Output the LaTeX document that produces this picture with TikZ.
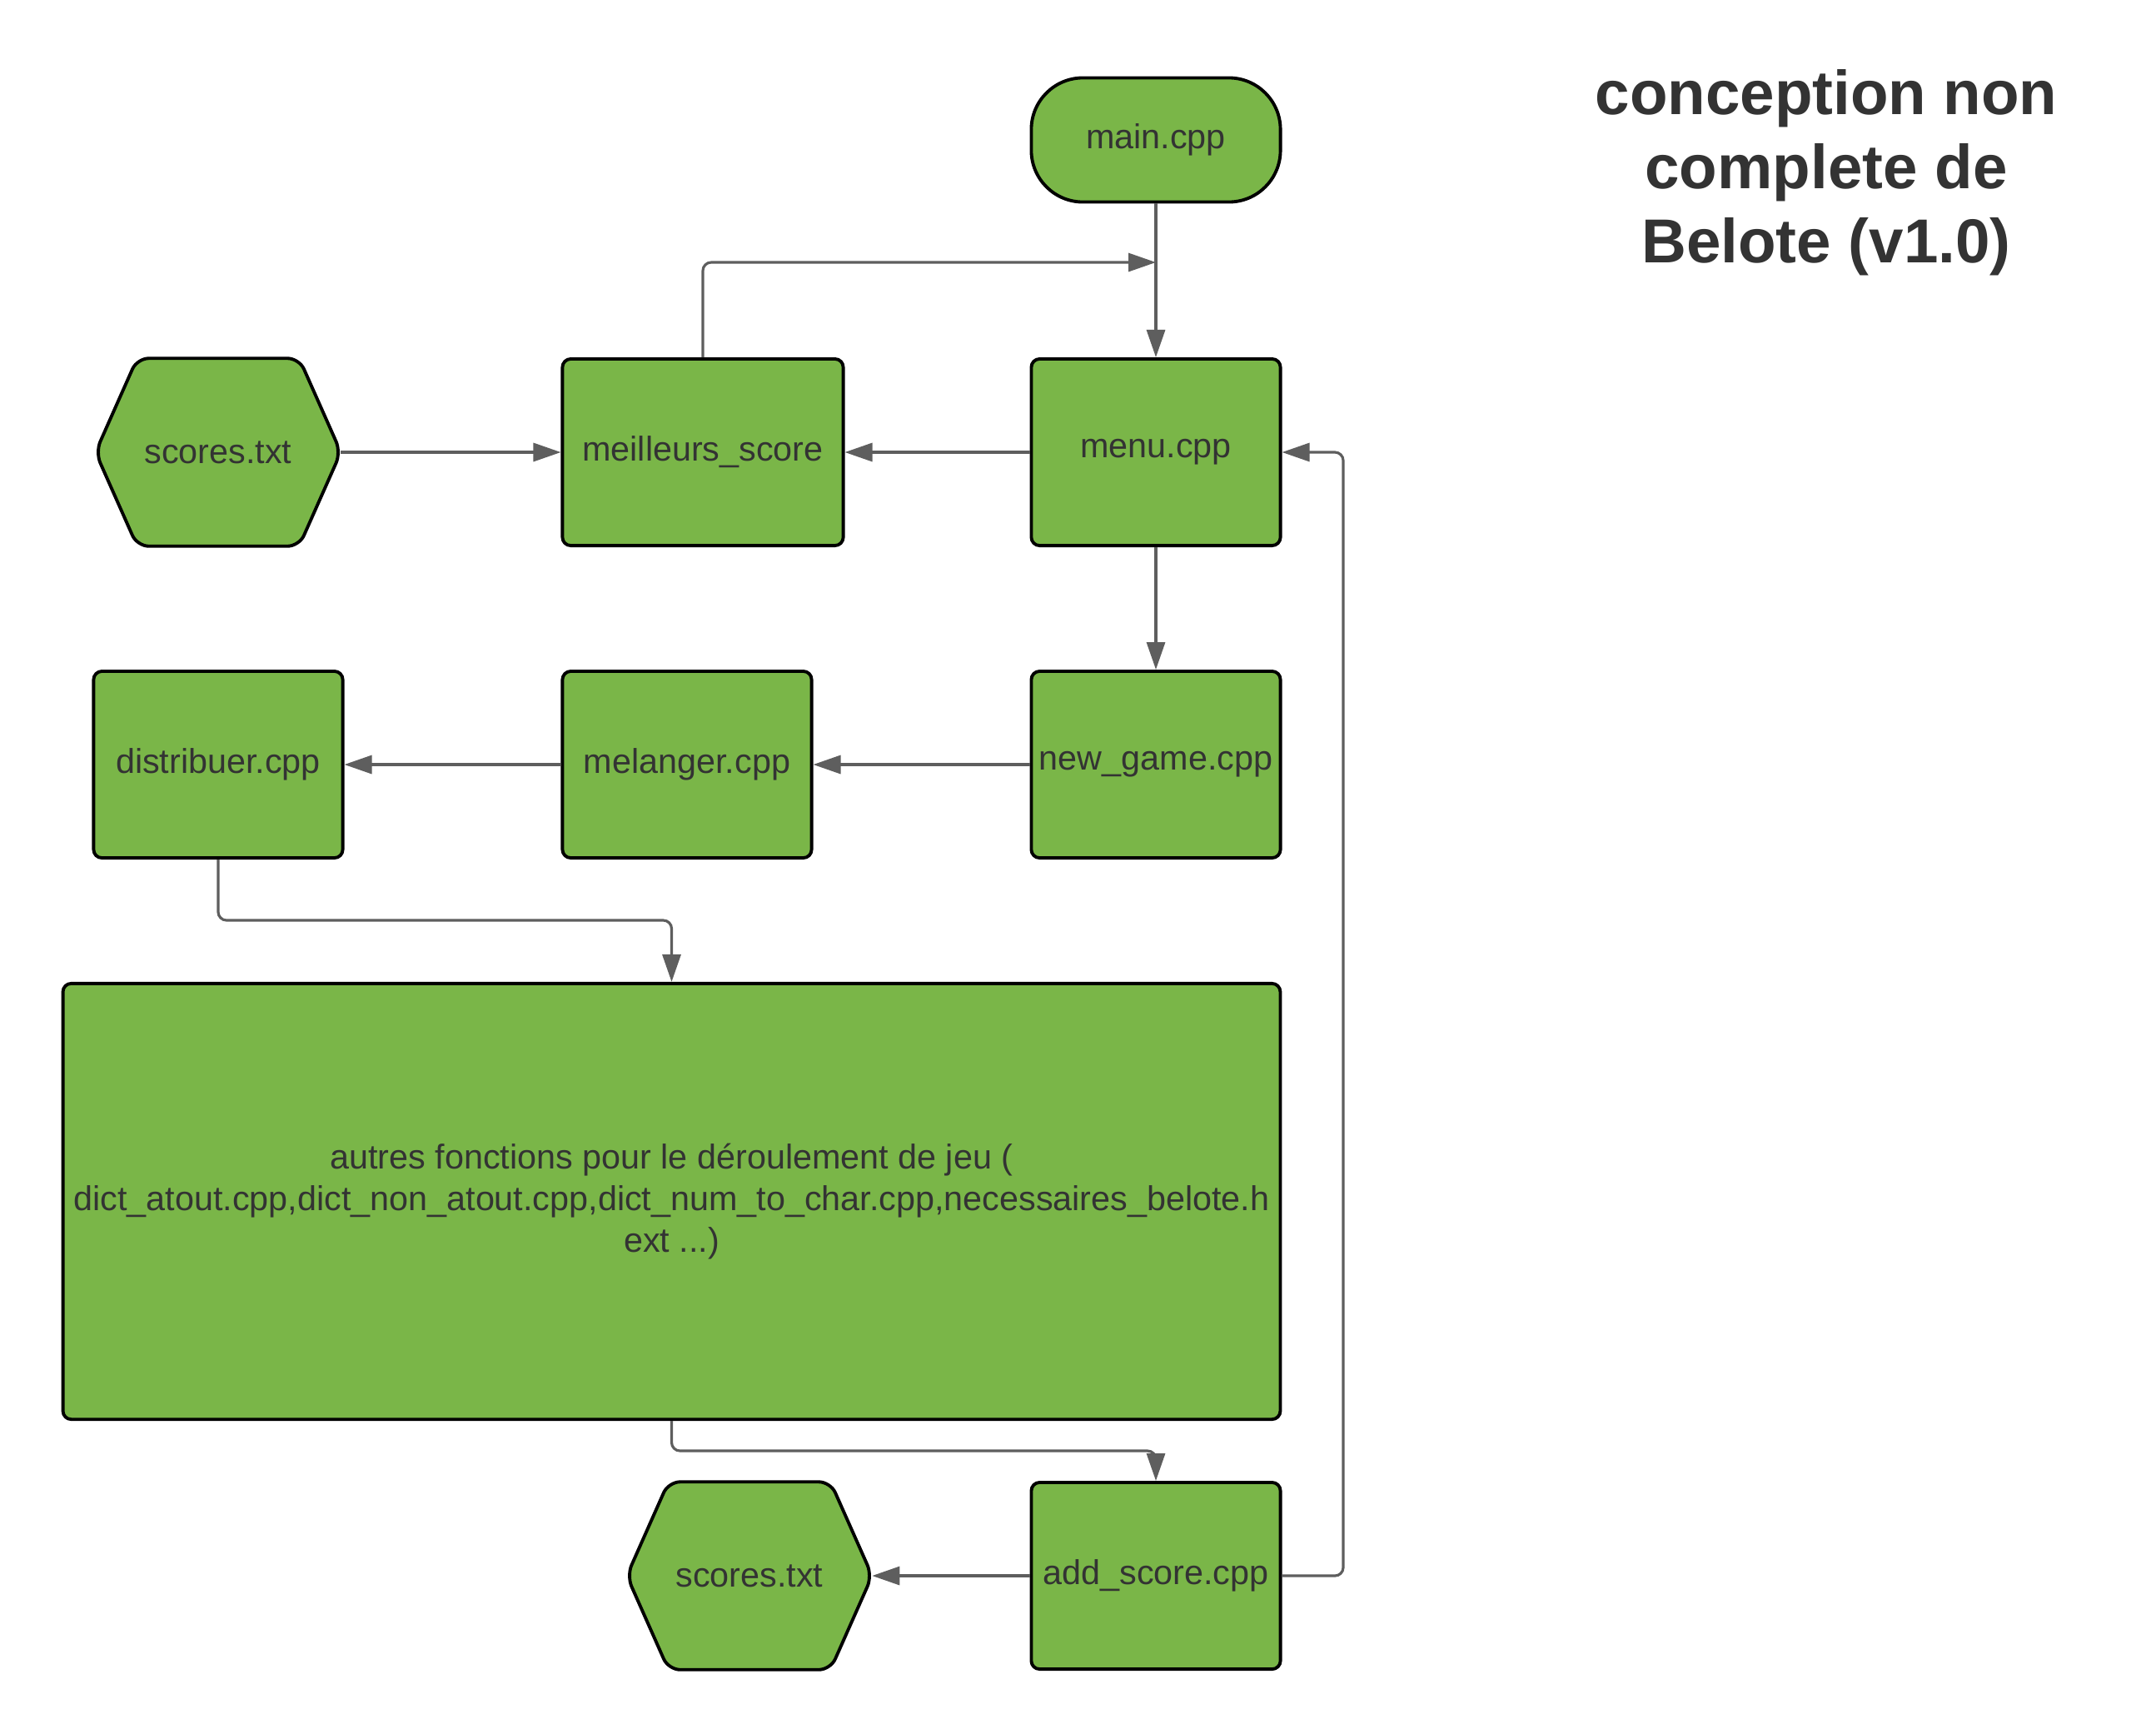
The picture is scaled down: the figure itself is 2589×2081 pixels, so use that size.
\documentclass[tikz,border=0pt]{standalone}
\usepackage{fontspec}
\setmainfont{Liberation Sans}
\usetikzlibrary{arrows.meta}
\pgfdeclarelayer{background}
\pgfsetlayers{background,main}
\definecolor{boxgreen}{HTML}{7AB648}
\definecolor{txtgray}{HTML}{333333}
\definecolor{conngray}{HTML}{5E5E5E}
\begin{document}
\begin{tikzpicture}[x=0.01cm,y=-0.01cm,
  box/.style={draw=black, line width=1.1pt, fill=boxgreen, rounded corners=0.1cm,
    text=txtgray, font=\fontsize{11.75}{14.2}\selectfont, inner sep=0pt, align=center,
    minimum width=2.99cm, minimum height=2.24cm},
  hexbox/.style={text=txtgray, font=\fontsize{11.75}{14.2}\selectfont, inner sep=0pt,
    minimum width=2.93cm, minimum height=2.24cm},
  hexshape/.style={draw=black, line width=1.1pt, fill=boxgreen, rounded corners=0.14cm},
  link/.style={draw=conngray, line width=0.9pt, rounded corners=0.1cm,
    -{Triangle[length=0.33cm,width=0.22cm]}},
]
\useasboundingbox (0,0) rectangle (2589,2081);

\node[box, rounded corners=0.62cm, minimum height=1.49cm] (main) at (1388,168) {main.cpp};
\node[box] (menu) at (1388,543) {menu.cpp};
\node[box, minimum width=3.37cm] (best) at (844,543) {meilleurs\_score};
\node[hexbox] (s1) at (262,543) {scores.txt};
\node[box] (new) at (1388,918) {new\_game.cpp};
\node[box] (mel) at (825,918) {melanger.cpp};
\node[box] (dist) at (262,918) {distribuer.cpp};
\node[box, minimum width=14.61cm, minimum height=5.23cm] (big) at (806.5,1442.5)
  {autres fonctions pour le déroulement de jeu (\\dict\_atout.cpp,dict\_non\_atout.cpp,dict\_num\_to\_char.cpp,necessaires\_belote.h\\ext ...)};
\node[box] (add) at (1388,1892) {add\_score.cpp};
\node[hexbox] (s2) at (900,1892) {scores.txt};

\node[font=\bfseries\fontsize{21.2}{25.3}\selectfont, text=txtgray, align=center] (title)
  at (2193,207) {conception non\\complete de\\Belote (v1.0)};

\begin{pgfonlayer}{background}
\fill[white] (0,0) rectangle (2589,2081);
\path[hexshape] (s1.north) -- ([xshift=-0.5cm]s1.north east) -- (s1.east) -- ([xshift=-0.5cm]s1.south east)
  -- ([xshift=0.5cm]s1.south west) -- (s1.west) -- ([xshift=0.5cm]s1.north west) -- cycle;
\path[hexshape] (s2.north) -- ([xshift=-0.5cm]s2.north east) -- (s2.east) -- ([xshift=-0.5cm]s2.south east)
  -- ([xshift=0.5cm]s2.south west) -- (s2.west) -- ([xshift=0.5cm]s2.north west) -- cycle;
\end{pgfonlayer}

\coordinate (j) at (1388,315);
\coordinate (d1) at (262,1105);
\coordinate (b1) at (806.5,1742);
\coordinate (r1) at (1613,1892);
\coordinate (r2) at (1613,543);

\draw[link] (main.south) -- (menu.north);
\draw[link] (best.north) |- (j);
\draw[link] (s1.east) -- (best.west);
\draw[link] (menu.west) -- (best.east);
\draw[link] (menu.south) -- (new.north);
\draw[link] (new.west) -- (mel.east);
\draw[link] (mel.west) -- (dist.east);
\draw[link] (dist.south) -- (d1) -| (big.north);
\draw[link] (big.south) -- (b1) -| (add.north);
\draw[link] (add.west) -- (s2.east);
\draw[link] (add.east) -- (r1) -- (r2) -- (menu.east);
\end{tikzpicture}
\end{document}
